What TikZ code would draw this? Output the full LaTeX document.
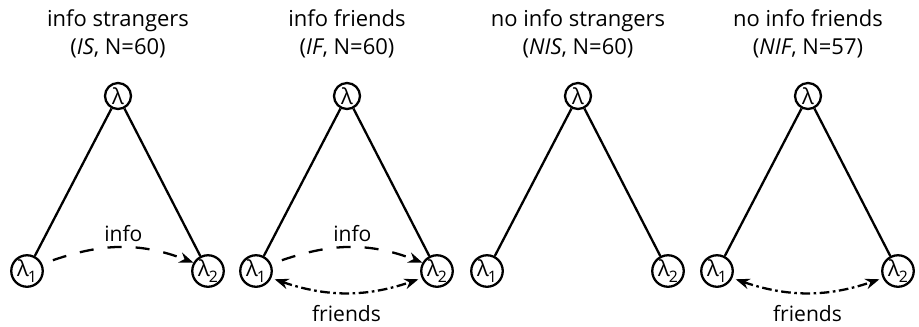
\documentclass[tikz,border=0pt]{standalone}
\usepackage{fontspec}
\setmainfont{Open Sans}
\usetikzlibrary{arrows.meta}
\tikzset{
  par/.style={circle, draw, line width=1.3pt, minimum size=0.52cm, inner sep=0pt, font=\fontsize{12.5}{13}\selectfont},
  parsub/.style={par, minimum size=0.63cm},
  edge/.style={line width=1.3pt},
  infoarr/.style={line width=1.3pt, dash pattern=on 8pt off 8pt, -{Stealth[length=8pt,width=6pt]}},
  friendarr/.style={line width=1.3pt, dash pattern=on 5.5pt off 2pt on 1.5pt off 2pt, {Stealth[length=8pt,width=6pt]}-{Stealth[length=8pt,width=6pt]}},
  ttl/.style={align=center, font=\fontsize{12.5}{16}\selectfont},
  lbl/.style={font=\fontsize{12}{13}\selectfont}
}
\newcommand{\lamsub}[1]{λ\kern-0.5pt\raisebox{-0.45ex}{\fontsize{9}{9}\selectfont #1}}
\begin{document}
\begin{tikzpicture}[x=0.02cm, y=-0.02cm]
	\useasboundingbox (0,0) rectangle (919,326);
	% titles
	\node[ttl] (tIS) at (118, 34) {info strangers\\(\textit{IS}, N=60)};
	\node[ttl] (tIF) at (347, 34) {info friends\\(\textit{IF}, N=60)};
	\node[ttl] (tNIS) at (578, 34) {no info strangers\\(\textit{NIS}, N=60)};
	\node[ttl] (tNIF) at (808, 34) {no info friends\\(\textit{NIF}, N=57)};
	% parameter trees
	\foreach \p/\x in {IS/118, IF/347, NIS/578, NIF/808} {
		\node[par] (top\p) at (\x, 96) {λ};
		\node[parsub] (left\p) at (\x-91, 271) {\lamsub{1}};
		\node[parsub] (right\p) at (\x+90, 271) {\lamsub{2}};
		\draw[edge] (top\p) -- (left\p);
		\draw[edge] (top\p) -- (right\p);
	}
	% info
	\draw[infoarr] ([shift={(10,-5)}]leftIS.20) to[bend left=20] node[midway, above=-1pt, lbl] (iIS) {info} (rightIS.150);
	\draw[infoarr] ([shift={(10,-5)}]leftIF.20) to[bend left=20] node[midway, above=-1pt, lbl] (iIF) {info} (rightIF.150);
	% friends
	\draw[friendarr, shorten <=2pt, shorten >=2pt] (leftIF.-25) to[bend right=19] node[midway, below=3.5pt, lbl] (fIF) {friends} (rightIF.-155);
	\draw[friendarr, shorten <=2pt, shorten >=2pt] (leftNIF.-25) to[bend right=19] node[midway, below=3.5pt, lbl] (fNIF) {friends} (rightNIF.-155);
\end{tikzpicture}
\end{document}
